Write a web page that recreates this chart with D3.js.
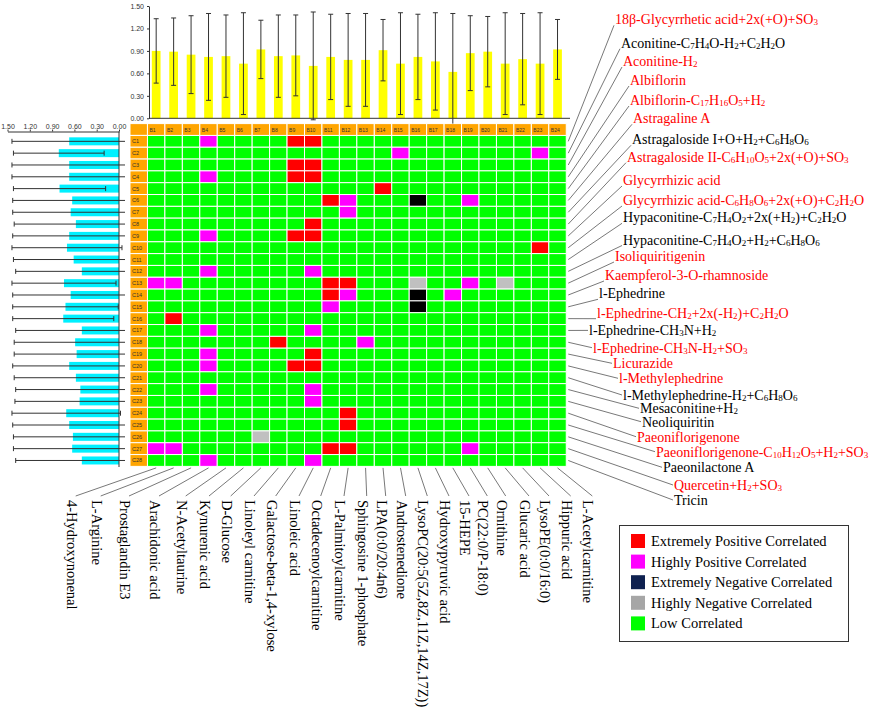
<!DOCTYPE html>
<html>
<head>
<meta charset="utf-8">
<script src="https://cdn.jsdelivr.net/npm/d3@7"></script>
<style>
  body { margin: 0; background: #fff; }
  svg { display: block; font-family: "Liberation Serif", "Times New Roman", serif; }
</style>
</head>
<body>
<svg id="chart" width="886" height="713"></svg>
<script>
const cols = d3.range(1, 25).map(i => 'B' + i);
const rows = d3.range(1, 29).map(i => 'C' + i);

// top bars (mean, sd) per B column
const topMean = [0.90, 0.89, 0.85, 0.82, 0.83, 0.73, 0.92, 0.83, 0.84, 0.70, 0.82, 0.78,
                 0.78, 0.91, 0.73, 0.82, 0.76, 0.62, 0.87, 0.89, 0.73, 0.79, 0.73, 0.92];
const topSd   = [0.43, 0.45, 0.52, 0.58, 0.55, 0.68, 0.39, 0.55, 0.54, 0.72, 0.57, 0.62,
                 0.62, 0.41, 0.68, 0.57, 0.65, 0.78, 0.50, 0.47, 0.68, 0.61, 0.68, 0.40];

// left bars (mean, sd) per C row
const leftMean = [0.67, 0.81, 0.67, 0.67, 0.80, 0.63, 0.65, 0.58, 0.67, 0.70, 0.61, 0.50, 0.74, 0.65,
                  0.72, 0.75, 0.50, 0.59, 0.57, 0.67, 0.58, 0.52, 0.53, 0.71, 0.67, 0.62, 0.63, 0.50];
const leftSd   = [0.77, 0.61, 0.77, 0.77, 0.62, 0.80, 0.78, 0.83, 0.76, 0.74, 0.81, 0.89, 0.70, 0.78,
                  0.71, 0.68, 0.89, 0.82, 0.84, 0.76, 0.83, 0.87, 0.87, 0.73, 0.76, 0.80, 0.79, 0.89];

// non-low cells: column number + code (R extreme pos, M high pos, N extreme neg, G high neg)
const hits = {
  C1: '4M 9R 10R', C2: '15M 23M', C3: '9R 10R', C4: '4M 9R 10R', C5: '14R',
  C6: '11R 12M 16N 19M', C7: '12M', C8: '10R', C9: '4M 9R 10R', C10: '23R',
  C12: '4M 10M', C13: '1M 2M 11R 12R 16G 19M 21G', C14: '11R 12M 16N 18M',
  C15: '11M 16N', C16: '2R', C17: '4M 10M', C18: '8R 13M', C19: '4M 10R',
  C20: '4M 9R 10R', C22: '4M 10M', C23: '10M', C24: '12R', C25: '12R', C26: '7G',
  C27: '1M 2M 11R 12R 19M', C28: '4M 10M'
};

const rowNames = [
  '18β-Glycyrrhetic acid+2x(+O)+SO_3', 'Aconitine-C_7H_4O-H_2+C_2H_2O', 'Aconitine-H_2',
  'Albiflorin', 'Albiflorin-C_17H_16O_5+H_2', 'Astragaline A', 'Astragaloside I+O+H_2+C_6H_8O_6',
  'Astragaloside II-C_6H_10O_5+2x(+O)+SO_3', 'Glycyrrhizic acid',
  'Glycyrrhizic acid-C_6H_8O_6+2x(+O)+C_2H_2O', 'Hypaconitine-C_7H_4O_2+2x(+H_2)+C_2H_2O',
  'Hypaconitine-C_7H_4O_2+H_2+C_6H_8O_6', 'Isoliquiritigenin', 'Kaempferol-3-O-rhamnoside',
  'l-Ephedrine', 'l-Ephedrine-CH_2+2x(-H_2)+C_2H_2O', 'l-Ephedrine-CH_3N+H_2',
  'l-Ephedrine-CH_3N-H_2+SO_3', 'Licurazide', 'l-Methylephedrine', 'l-Methylephedrine-H_2+C_6H_8O_6',
  'Mesaconitine+H_2', 'Neoliquiritin', 'Paeoniflorigenone', 'Paeoniflorigenone-C_10H_12O_5+H_2+SO_3',
  'Paeonilactone A', 'Quercetin+H_2+SO_3', 'Tricin'
];
const rowMarked = [1,0,1,1,1,1,0,1,1,1,0,0,1,1,0,1,0,1,1,1,0,0,0,1,1,0,1,0];

const colNames = [
  '4-Hydroxynonenal', 'L-Arginine', 'Prostaglandin E3', 'Arachidonic acid', 'N-Acetyltaurine',
  'Kynurenic acid', 'D-Glucose', 'Linoleyl carnitine', 'Galactose-beta-1,4-xylose', 'Linoleic acid',
  'Octadecenoylcarnitine', 'L-Palmitoylcarnitine', 'Sphingosine 1-phosphate', 'LPA(0:0/20:4n6)',
  'Androstenedione', 'LysoPC(20:5(5Z,8Z,11Z,14Z,17Z))', 'Hydroxypyruvic acid', '15-HEPE',
  'PC(22:0/P-18:0)', 'Ornithine', 'Glucaric acid', 'LysoPE(0:0/16:0)', 'Hippuric acid', 'L-Acetylcarnitine'
];

const legendCodes = ['R', 'M', 'N', 'G', 'L'];
const legendLabels = ['Extremely Positive Correlated', 'Highly Positive Correlated',
  'Extremely Negative Correlated', 'Highly Negative Correlated', 'Low Correlated'];
const ticks = [0, 0.3, 0.6, 0.9, 1.2, 1.5];

// layout of the label callouts (not data)
const rightLabelPos = [[615,19.3],[621,42.7],[623,61],[630,80],[630,100],[633,118.3],[632,139.3],
  [627,156.7],[623,180],[623,200],[623,217.3],[623,239.5],[615,256],[605,275],[599,293.3],
  [597,312.7],[589,330.4],[593,347.7],[613,363.3],[619,378.3],[623,395],[640,408.3],[642,421.7],
  [637,436.7],[656,451.7],[663,467.3],[674,485],[674,500]];
const bottomLabelX = [71.7,96.7,125,155,181.7,205,226.7,250,271.7,295,316.7,340,362.7,381.7,
  401.7,423.3,445,465,483.3,501.7,525,545,566.7,588.3];

const cellColor = { R: '#ff0000', M: '#ff00ff', N: '#000000', G: '#c0c0c0', L: '#00ff00' };
const swatchColor = { R: '#ff0000', M: '#ff00ff', N: '#0f2150', G: '#a6a6a6', L: '#00ff00' };
const orange = '#ffa500';

const svg = d3.select('#chart');
const colW = 17.45, rowH = 11.82, gx = 130, gy = 123.6;

const x = d3.scaleBand().domain(cols).range([gx + colW, gx + colW * 25]);
const y = d3.scaleBand().domain(rows).range([gy + rowH, gy + rowH * 29]);

// ---------- heatmap ----------
const catOf = {};
Object.entries(hits).forEach(([r, s]) => {
  s.split(' ').forEach(t => { catOf[r + '|B' + parseInt(t)] = t.slice(-1); });
});
const cells = rows.flatMap(r => cols.map(c => ({ r, c, k: catOf[r + '|' + c] || 'L' })));

svg.append('g').selectAll('rect')
  .data(cells)
  .enter()
  .append('rect')
  .attr('x', d => x(d.c))
  .attr('y', d => y(d.r))
  .attr('width', x.bandwidth())
  .attr('height', y.bandwidth())
  .style('fill', d => cellColor[d.k])
  .style('stroke', '#fff')
  .style('stroke-width', 1);

// header row + row label column
const head = svg.append('g').style('font-family', '"Liberation Sans", Arial, sans-serif');
head.selectAll('rect.hc')
  .data(['', ...cols])
  .enter()
  .append('rect')
  .attr('x', (d, i) => gx + i * colW)
  .attr('y', gy)
  .attr('width', colW)
  .attr('height', rowH)
  .style('fill', orange)
  .style('stroke', '#fff')
  .style('stroke-width', 1);
head.selectAll('text.hc')
  .data(cols)
  .enter()
  .append('text')
  .attr('x', d => x(d) + 2)
  .attr('y', gy + rowH / 2)
  .attr('dominant-baseline', 'central')
  .style('font-size', '5px')
  .style('fill', '#333')
  .text(d => d);
head.selectAll('rect.rc')
  .data(rows)
  .enter()
  .append('rect')
  .attr('x', gx)
  .attr('y', d => y(d))
  .attr('width', colW)
  .attr('height', y.bandwidth())
  .style('fill', orange)
  .style('stroke', '#fff')
  .style('stroke-width', 1);
head.selectAll('text.rc')
  .data(rows)
  .enter()
  .append('text')
  .attr('x', gx + 2)
  .attr('y', d => y(d) + y.bandwidth() / 2)
  .attr('dominant-baseline', 'central')
  .style('font-size', '5.5px')
  .style('fill', '#333')
  .text(d => d);

// ---------- top bar chart ----------
const yTop = d3.scaleLinear().domain([0, 1.5]).range([118.3, 6]);
const topG = svg.append('g');
topG.selectAll('rect')
  .data(topMean)
  .enter()
  .append('rect')
  .attr('x', (d, i) => x(cols[i]) + x.bandwidth() / 4)
  .attr('y', d => yTop(d))
  .attr('width', x.bandwidth() / 2)
  .attr('height', d => yTop(0) - yTop(d))
  .style('fill', '#ffff00');

topMean.forEach((m, i) => {
  const cx = x(cols[i]) + x.bandwidth() / 2;
  const y1 = yTop(m + topSd[i]);
  let y2 = yTop(m - topSd[i]);
  const clipped = y2 > gy;
  if (clipped) y2 = gy;
  topG.append('line').attr('x1', cx).attr('x2', cx).attr('y1', y1).attr('y2', y2)
    .style('stroke', '#333').style('stroke-width', 1);
  topG.append('line').attr('x1', cx - 2.5).attr('x2', cx + 2.5).attr('y1', y1).attr('y2', y1)
    .style('stroke', '#333').style('stroke-width', 1);
  if (!clipped) {
    topG.append('line').attr('x1', cx - 2.5).attr('x2', cx + 2.5).attr('y1', y2).attr('y2', y2)
      .style('stroke', '#333').style('stroke-width', 1);
  }
});

const topAxis = svg.append('g')
  .attr('transform', 'translate(149,0)')
  .call(d3.axisLeft(yTop).tickValues(ticks).tickFormat(d3.format('.2f')).tickSize(2).tickSizeOuter(0).tickPadding(3));
svg.append('line')
  .attr('x1', 149).attr('x2', 570).attr('y1', yTop(0)).attr('y2', yTop(0))
  .style('stroke', '#333').style('stroke-width', 1);

// ---------- left bar chart ----------
const xLeft = d3.scaleLinear().domain([0, 1.5]).range([119, 7.5]);
svg.append('clipPath').attr('id', 'leftClip')
  .append('rect').attr('x', 0).attr('y', 120).attr('width', 125).attr('height', 360);
const leftG = svg.append('g').attr('clip-path', 'url(#leftClip)');
const barH = 8;
leftG.selectAll('rect')
  .data(leftMean)
  .enter()
  .append('rect')
  .attr('x', d => xLeft(d))
  .attr('y', (d, i) => y(rows[i]) + (y.bandwidth() - barH) / 2)
  .attr('width', d => xLeft(0) - xLeft(d))
  .attr('height', barH)
  .style('fill', '#00f0ff');
leftMean.forEach((m, i) => {
  const cy = y(rows[i]) + y.bandwidth() / 2;
  const xa = xLeft(m + leftSd[i]);
  const xb = xLeft(m - leftSd[i]);
  leftG.append('line').attr('x1', xa).attr('x2', xb).attr('y1', cy).attr('y2', cy)
    .style('stroke', '#333').style('stroke-width', 1);
  [xa, xb].forEach(xx => {
    leftG.append('line').attr('x1', xx).attr('x2', xx).attr('y1', cy - 2.5).attr('y2', cy + 2.5)
      .style('stroke', '#333').style('stroke-width', 1);
  });
});
const leftAxis = svg.append('g')
  .attr('transform', 'translate(0,131.5)')
  .call(d3.axisTop(xLeft).tickValues(ticks).tickFormat(d3.format('.2f')).tickSize(2).tickSizeOuter(0).tickPadding(1));
svg.append('line')
  .attr('x1', xLeft(0)).attr('x2', xLeft(0)).attr('y1', 131.5).attr('y2', 467)
  .style('stroke', '#333').style('stroke-width', 1);

[topAxis, leftAxis].forEach(a => {
  a.selectAll('text').style('font-size', '7px').style('fill', '#333')
    .style('font-family', '"Liberation Sans", Arial, sans-serif');
  a.selectAll('path, line').style('stroke', '#333');
});

// ---------- right labels ----------
function richText(sel, s) {
  const parts = s.split(/_(\d+)/);
  let low = false;
  parts.forEach((p, i) => {
    if (!p) return;
    const sub = i % 2 === 1;
    const t = sel.append('tspan').text(p);
    if (sub) {
      t.style('font-size', '9px');
      if (!low) { t.attr('dy', 3); low = true; }
    } else if (low) {
      t.attr('dy', -3); low = false;
    }
  });
}

const rightG = svg.append('g');
rows.forEach((r, i) => {
  const ry = y(r) + y.bandwidth() / 2;
  const [lx, ly] = rightLabelPos[i];
  const endY = ly < ry - 2 ? ly + 6 : ly;
  rightG.append('line')
    .attr('x1', gx + colW * 25 + 2).attr('y1', ry)
    .attr('x2', lx - 1).attr('y2', endY)
    .style('stroke', '#555').style('stroke-width', 0.8);
  const t = rightG.append('text')
    .attr('x', lx).attr('y', ly)
    .attr('dominant-baseline', 'central')
    .style('font-size', '14px')
    .style('fill', rowMarked[i] ? '#ff0000' : '#000');
  richText(t, rowNames[i]);
});

// ---------- bottom labels ----------
const botG = svg.append('g');
cols.forEach((c, i) => {
  const cx = x(c) + x.bandwidth() / 2;
  const lx = bottomLabelX[i];
  botG.append('line')
    .attr('x1', cx).attr('y1', gy + rowH * 29 + 1.5)
    .attr('x2', lx + 4).attr('y2', 496)
    .style('stroke', '#555').style('stroke-width', 0.8);
  botG.append('text')
    .attr('transform', `translate(${lx},500) rotate(90)`)
    .attr('dominant-baseline', 'central')
    .style('font-size', '14.5px')
    .style('fill', '#000')
    .text(colNames[i]);
});

// ---------- legend ----------
const lg = svg.append('g');
lg.append('rect')
  .attr('x', 619.5).attr('y', 525.5).attr('width', 229).attr('height', 116)
  .style('fill', '#fff').style('stroke', '#333').style('stroke-width', 1);
lg.selectAll('rect.sw')
  .data(legendCodes)
  .enter()
  .append('rect')
  .attr('x', 631)
  .attr('y', (d, i) => 534 + i * 20.6)
  .attr('width', 14)
  .attr('height', 14)
  .style('fill', d => swatchColor[d]);
lg.selectAll('text')
  .data(legendLabels)
  .enter()
  .append('text')
  .attr('x', 651)
  .attr('y', (d, i) => 541 + i * 20.6)
  .attr('dominant-baseline', 'central')
  .style('font-size', '14.5px')
  .text(d => d);
</script>
</body>
</html>
